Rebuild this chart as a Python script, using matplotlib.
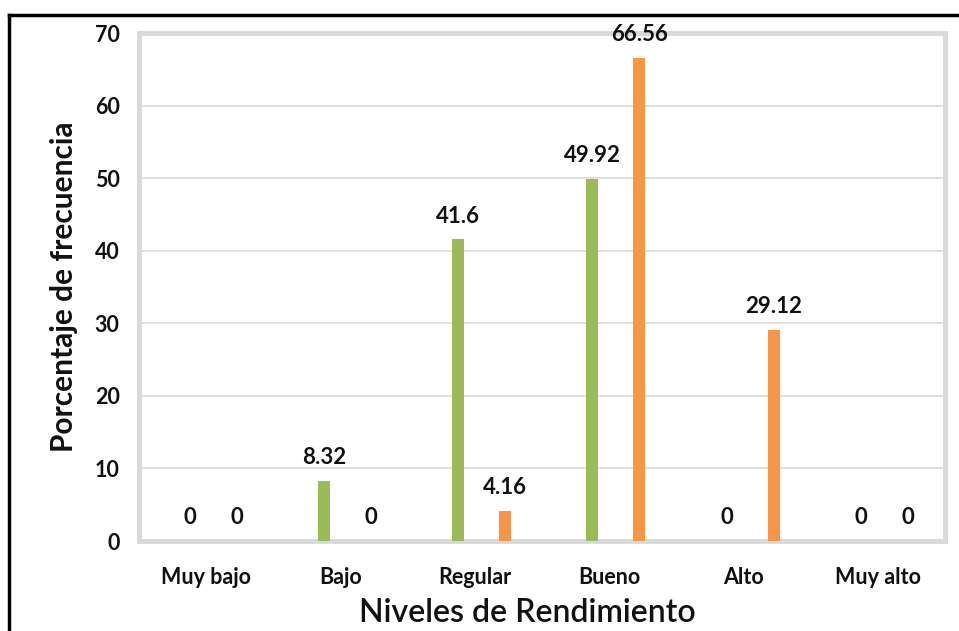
import matplotlib
matplotlib.use("Agg")
import matplotlib.pyplot as plt
from matplotlib.lines import Line2D
import numpy as np

categories = ["Muy bajo", "Bajo", "Regular", "Bueno", "Alto", "Muy alto"]
serie_1 = [0, 8.32, 41.6, 49.92, 0, 0]
serie_2 = [0, 0, 4.16, 66.56, 29.12, 0]
y_ticks = [0, 10, 20, 30, 40, 50, 60, 70]

green = "#9BBB59"
orange = "#F79646"
font = "Lato"

W, H = 959, 631
fig = plt.figure(figsize=(W / 100, H / 100), dpi=100)
ax = fig.add_axes([139 / W, (H - 541) / H, (945 - 139) / W, (541 - 33) / H])

x = np.arange(len(categories))
bw = 0.09
b1 = ax.bar(x - 0.125, serie_1, width=bw, color=green, zorder=3)
b2 = ax.bar(x + 0.225, serie_2, width=bw, color=orange, zorder=3)

for bars, vals in ((b1, serie_1), (b2, serie_2)):
    for r, v in zip(bars, vals):
        lab = f"{v:g}"
        ax.annotate(lab, (r.get_x() + r.get_width() / 2, v), xytext=(0, 9),
                    textcoords="offset points", ha="center", va="bottom",
                    fontsize=16, fontweight="bold", family=font, color="#111111")

ax.set_xlim(-0.5, 5.5)
ax.set_ylim(0, 70)
ax.set_yticks(y_ticks)
ax.set_xticks(x)
ax.set_xticklabels(categories)
for t in ax.get_xticklabels() + ax.get_yticklabels():
    t.set_fontfamily(font)
    t.set_fontweight("bold")
    t.set_fontsize(15.5)
    t.set_color("#111111")
ax.tick_params(length=0)
ax.tick_params(axis="x", pad=19)
ax.tick_params(axis="y", pad=14)
ax.grid(axis="y", color="#D9D9D9", linewidth=1.2, zorder=0)
for s in ax.spines.values():
    s.set_color("#D9D9D9")
    s.set_linewidth(3.5)

ax.set_ylabel("Porcentaje de frecuencia", fontsize=21.5, fontweight="bold",
              family=font, color="#111111", labelpad=12)
ax.set_xlabel("Niveles de Rendimiento", fontsize=23, fontweight="semibold",
              family=font, color="#111111")
ax.xaxis.set_label_coords((527 - 139) / (945 - 139), -0.112)

fig.add_artist(Line2D([9 / W, 1], [1 - 15 / H, 1 - 15 / H], color="black", linewidth=2.5,
                      transform=fig.transFigure))
fig.add_artist(Line2D([9 / W, 9 / W], [0, 1 - 15 / H], color="black", linewidth=2.5,
                      transform=fig.transFigure))

fig.savefig("out.png", dpi=100)
